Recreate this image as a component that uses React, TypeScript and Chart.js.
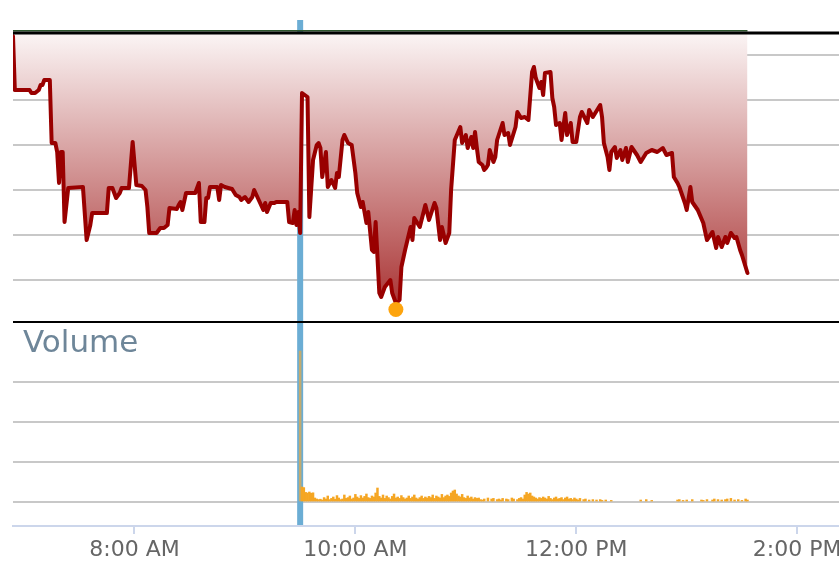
import { useEffect, useRef } from 'react';
import { Chart, registerables } from 'chart.js';

Chart.register(...registerables);

// ---- data ----
const PRICE_TIMES = [
  414, 415, 423, 424, 426, 428, 429, 430, 431, 434,
  435, 437, 438, 439, 440, 441, 442, 444, 452, 454,
  456, 457, 465, 466, 468, 470, 472, 473, 477, 479,
  481, 484, 486, 487, 488, 492, 494, 496, 498, 499,
  503, 504, 505, 506, 508, 513, 515, 516, 518, 519,
  520, 521, 525, 526, 527, 529, 533, 535, 537, 538,
  540, 542, 544, 545, 548, 550, 551, 552, 554, 556,
  557, 563, 564, 566, 567, 568, 569, 570, 571, 574,
  575, 577, 579, 580, 581, 582, 584, 585, 587, 589,
  590, 591, 593, 594, 596, 598, 600, 601, 603, 604,
  606, 607, 609, 610, 611, 613, 614, 616, 619, 620,
  622, 624, 625, 627, 630, 631, 632, 635, 638, 640,
  643, 644, 646, 647, 649, 651, 652, 654, 657, 658,
  660, 661, 663, 664, 665, 666, 667, 669, 670, 671,
  672, 673, 675, 676, 677, 680, 681, 683, 684, 687,
  688, 690, 692, 694, 696, 697, 698, 700, 701, 702,
  703, 706, 707, 708, 709, 711, 712, 714, 715, 717,
  718, 720, 722, 723, 726, 727, 729, 732, 733, 734,
  735, 737, 738, 739, 741, 742, 744, 745, 747, 748,
  750, 753, 755, 758, 761, 764, 767, 769, 772, 773,
  775, 776, 779, 780, 782, 783, 786, 789, 791, 794,
  796, 797, 799, 801, 802, 804, 806, 807, 809, 810, 813,
];

const PRICE_VALUES = [
  32.44, 31.90, 31.90, 31.87, 31.87, 31.90, 31.95, 31.95, 32.00, 32.00,
  31.37, 31.37, 31.28, 30.97, 31.28, 31.28, 30.58, 30.92, 30.93, 30.40,
  30.55, 30.67, 30.67, 30.92, 30.92, 30.82, 30.87, 30.92, 30.92, 31.38,
  30.95, 30.94, 30.90, 30.73, 30.47, 30.47, 30.52, 30.52, 30.55, 30.72,
  30.71, 30.75, 30.78, 30.70, 30.87, 30.87, 30.97, 30.58, 30.58, 30.82,
  30.82, 30.93, 30.93, 30.80, 30.95, 30.93, 30.91, 30.85, 30.83, 30.80,
  30.83, 30.78, 30.83, 30.90, 30.78, 30.70, 30.77, 30.68, 30.77, 30.77,
  30.78, 30.78, 30.58, 30.57, 30.70, 30.55, 30.68, 30.47, 31.87, 31.83,
  30.63, 31.20, 31.35, 31.37, 31.32, 31.03, 31.28, 30.93, 31.00, 30.92,
  31.07, 31.03, 31.40, 31.45, 31.37, 31.35, 31.07, 30.87, 30.73, 30.78,
  30.57, 30.68, 30.30, 30.28, 30.58, 29.87, 29.83, 29.93, 30.00, 29.87,
  29.77, 29.80, 30.13, 30.30, 30.53, 30.40, 30.62, 30.53, 30.75, 30.60,
  30.77, 30.72, 30.40, 30.53, 30.37, 30.47, 30.90, 31.40, 31.53, 31.37,
  31.45, 31.32, 31.43, 31.32, 31.48, 31.32, 31.18, 31.15, 31.10, 31.12,
  31.15, 31.30, 31.18, 31.23, 31.40, 31.57, 31.45, 31.47, 31.35, 31.53,
  31.68, 31.62, 31.63, 31.60, 32.08, 32.13, 32.02, 31.92, 31.98, 31.85,
  32.07, 32.08, 31.82, 31.73, 31.55, 31.57, 31.40, 31.67, 31.45, 31.57,
  31.38, 31.38, 31.63, 31.68, 31.57, 31.70, 31.63, 31.72, 31.75, 31.63,
  31.37, 31.23, 31.10, 31.28, 31.33, 31.22, 31.30, 31.20, 31.32, 31.18,
  31.33, 31.25, 31.18, 31.27, 31.30, 31.28, 31.32, 31.25, 31.27, 31.03,
  30.97, 30.93, 30.77, 30.70, 30.93, 30.78, 30.70, 30.57, 30.40, 30.48,
  30.32, 30.43, 30.33, 30.43, 30.37, 30.47, 30.42, 30.43, 30.30, 30.25, 30.07,
];

const PREV_CLOSE = 32.47;
const PRICE_MIN = 29.58;
const PRICE_GRID = [30.0, 30.45, 30.9, 31.35, 31.8, 32.25];

// volume per minute (thousands of shares), starting at 9:30
const VOLUME_START = 570;
const VOLUME_K = [
  755, 75, 72, 48, 45, 50, 44, 46, 20, 15,
  12, 14, 10, 22, 15, 30, 12, 18, 25, 14,
  32, 20, 12, 15, 35, 18, 22, 30, 15, 20,
  38, 25, 18, 32, 20, 28, 40, 22, 18, 30,
  25, 45, 70, 28, 20, 35, 18, 30, 22, 15,
  28, 40, 20, 25, 18, 32, 22, 15, 20, 30,
  18, 25, 35, 20, 15, 22, 30, 18, 25, 20,
  28, 22, 35, 18, 30, 25, 20, 38, 22, 30,
  35, 28, 45, 55, 60, 40, 30, 25, 38, 22,
  18, 30, 20, 25, 15, 22, 18, 20, 12, 10,
  15, 0, 20, 0, 15, 18, 0, 12, 15, 10,
  18, 0, 15, 12, 0, 20, 15, 0, 12, 18,
  22, 15, 35, 48, 40, 45, 30, 25, 20, 15,
  22, 18, 25, 20, 15, 28, 18, 12, 20, 25,
  15, 18, 22, 12, 20, 25, 15, 18, 12, 20,
  15, 10, 18, 0, 12, 15, 0, 10, 0, 12,
  0, 10, 0, 12, 8, 0, 10, 0, 0, 8,
  0, 0, 0, 0, 0, 0, 0, 0, 0, 0,
  0, 0, 0, 0, 0, 10, 0, 0, 12, 0,
  0, 8, 0, 0, 0, 0, 0, 0, 0, 0,
  0, 0, 0, 0, 0, 10, 12, 0, 8, 0,
  10, 0, 0, 12, 0, 0, 0, 0, 10, 8,
  0, 12, 0, 0, 10, 15, 0, 12, 0, 10,
  0, 12, 15, 0, 18, 0, 10, 0, 12, 0,
  8, 0, 15, 10,
];
const VOLUME_MIN = -120000;
const VOLUME_MAX = 900000;
const VOLUME_GRID = [0, 200000, 400000, 600000];

const X_MIN = 414;
const X_MAX = 885;
const X_TICKS = [480, 600, 720, 840];
const X_TICK_LABELS = ['8:00 AM', '10:00 AM', '12:00 PM', '2:00 PM'];
const MARKET_OPEN = 570;

const FONT = '"DejaVu Sans", Verdana, sans-serif';

const overlayPlugin = {
  id: 'overlay',
  beforeDatasetsDraw(chart: any) {
    const { ctx, scales } = chart;
    const x = scales.x;
    const px = x.getPixelForValue(MARKET_OPEN);
    ctx.save();
    ctx.strokeStyle = '#6badd4';
    ctx.lineWidth = 6;
    ctx.beginPath();
    ctx.moveTo(px, scales.y.top - 13);
    ctx.lineTo(px, x.top - 1);
    ctx.stroke();
    ctx.restore();
  },
  afterDatasetsDraw(chart: any) {
    const { ctx, chartArea, scales } = chart;
    const { x, y, yv } = scales;
    ctx.save();
    // previous close line
    const yc = y.getPixelForValue(PREV_CLOSE);
    const lastX = x.getPixelForValue(PRICE_TIMES[PRICE_TIMES.length - 1]);
    ctx.strokeStyle = '#2c552c';
    ctx.lineWidth = 1.5;
    ctx.beginPath();
    ctx.moveTo(chartArea.left, yc - 2.2);
    ctx.lineTo(lastX, yc - 2.2);
    ctx.stroke();
    ctx.strokeStyle = '#000000';
    ctx.lineWidth = 3;
    ctx.beginPath();
    ctx.moveTo(chartArea.left, yc);
    ctx.lineTo(chart.width, yc);
    ctx.stroke();
    // panel divider
    ctx.lineWidth = 2;
    ctx.beginPath();
    ctx.moveTo(chartArea.left, yv.top);
    ctx.lineTo(chart.width, yv.top);
    ctx.stroke();
    // low of day marker
    let lo = 0;
    for (let i = 1; i < PRICE_VALUES.length; i++) {
      if (PRICE_VALUES[i] < PRICE_VALUES[lo]) lo = i;
    }
    const lx = x.getPixelForValue(PRICE_TIMES[lo]);
    const ly = y.getPixelForValue(PRICE_VALUES[lo]) + 6.5;
    ctx.fillStyle = '#fda40e';
    ctx.beginPath();
    ctx.arc(lx, ly, 7.5, 0, Math.PI * 2);
    ctx.fill();
    // Volume label
    ctx.fillStyle = '#6e8699';
    ctx.font = '31px ' + FONT;
    ctx.textBaseline = 'alphabetic';
    ctx.textAlign = 'left';
    ctx.fillText('Volume', chartArea.left + 10, yv.top + 30);
    ctx.restore();
  },
};

export default function App() {
  const ref = useRef<HTMLCanvasElement>(null);

  useEffect(() => {
    const canvas = ref.current;
    if (!canvas) return;
    Chart.defaults.font.family = FONT;

    const priceData = PRICE_TIMES.map((t, i) => ({ x: t, y: PRICE_VALUES[i] }));
    const volumeData = VOLUME_K.map((v, i) => ({ x: VOLUME_START + i, y: v * 1000 })).filter(
      (d) => d.y > 0
    );

    const chart = new Chart(canvas, {
      type: 'line',
      data: {
        datasets: [
          {
            type: 'line',
            label: 'Price',
            data: priceData,
            yAxisID: 'y',
            borderColor: '#990000',
            borderWidth: 4,
            borderJoinStyle: 'round',
            borderCapStyle: 'round',
            pointRadius: 0,
            tension: 0,
            fill: { value: PREV_CLOSE },
            backgroundColor: (c: any) => {
              const ch = c.chart;
              const s = ch.scales.y;
              if (!ch.chartArea || !s || !Number.isFinite(s.top) || !Number.isFinite(s.bottom) || s.bottom <= s.top) {
                return '#d08a8a';
              }
              const g = ch.ctx.createLinearGradient(0, s.top, 0, s.bottom);
              g.addColorStop(0, '#fbf5f5');
              g.addColorStop(1, '#a52a2a');
              return g;
            },
          } as any,
          {
            type: 'bar',
            label: 'Volume',
            data: volumeData,
            yAxisID: 'yv',
            backgroundColor: (c: any) =>
              c.raw && c.raw.x === MARKET_OPEN ? '#c2ab70' : '#f5a623',
            barPercentage: 1,
            categoryPercentage: 1,
            borderWidth: 0,
          } as any,
        ],
      },
      options: {
        responsive: false,
        animation: false,
        devicePixelRatio: 1,
        events: [],
        layout: { padding: { left: 13, top: 33, right: 0, bottom: 0 } },
        plugins: {
          legend: { display: false },
          tooltip: { enabled: false },
        },
        scales: {
          x: {
            type: 'linear',
            min: X_MIN,
            max: X_MAX,
            offset: false,
            afterBuildTicks: (s: any) => {
              s.ticks = X_TICKS.map((v) => ({ value: v }));
            },
            afterFit: (s: any) => {
              s.height = 41;
            },
            grid: {
              offset: false,
              drawOnChartArea: false,
              drawTicks: true,
              tickLength: 8,
              color: '#ccd6eb',
              lineWidth: 2,
            },
            border: { display: true, color: '#ccd6eb', width: 2 },
            ticks: {
              autoSkip: false,
              maxRotation: 0,
              padding: 3,
              color: '#666666',
              font: { size: 22, family: FONT },
              callback: (v: any) => {
                const i = X_TICKS.indexOf(Number(v));
                return i >= 0 ? X_TICK_LABELS[i] : '';
              },
            },
          },
          yv: {
            type: 'linear',
            position: 'left',
            stack: 'panels',
            stackWeight: 204,
            min: VOLUME_MIN,
            max: VOLUME_MAX,
            afterBuildTicks: (s: any) => {
              s.ticks = VOLUME_GRID.map((v) => ({ value: v }));
            },
            afterFit: (s: any) => {
              s.width = 0;
            },
            ticks: { display: false },
            grid: { drawTicks: false, color: '#c8c8c8', lineWidth: 2 },
            border: { display: false },
          },
          y: {
            type: 'linear',
            position: 'left',
            stack: 'panels',
            stackWeight: 289,
            min: PRICE_MIN,
            max: PREV_CLOSE,
            afterBuildTicks: (s: any) => {
              s.ticks = PRICE_GRID.map((v) => ({ value: v }));
            },
            afterFit: (s: any) => {
              s.width = 0;
            },
            ticks: { display: false },
            grid: { drawTicks: false, color: '#c8c8c8', lineWidth: 2 },
            border: { display: false },
          },
        },
      } as any,
      plugins: [overlayPlugin],
    });

    return () => chart.destroy();
  }, []);

  return (
    <div
      style={{
        position: 'fixed',
        left: 0,
        top: 0,
        width: 839,
        height: 567,
        overflow: 'hidden',
        background: '#ffffff',
      }}
    >
      <canvas
        ref={ref}
        width={880}
        height={567}
        style={{ display: 'block', width: 880, height: 567 }}
      />
    </div>
  );
}
